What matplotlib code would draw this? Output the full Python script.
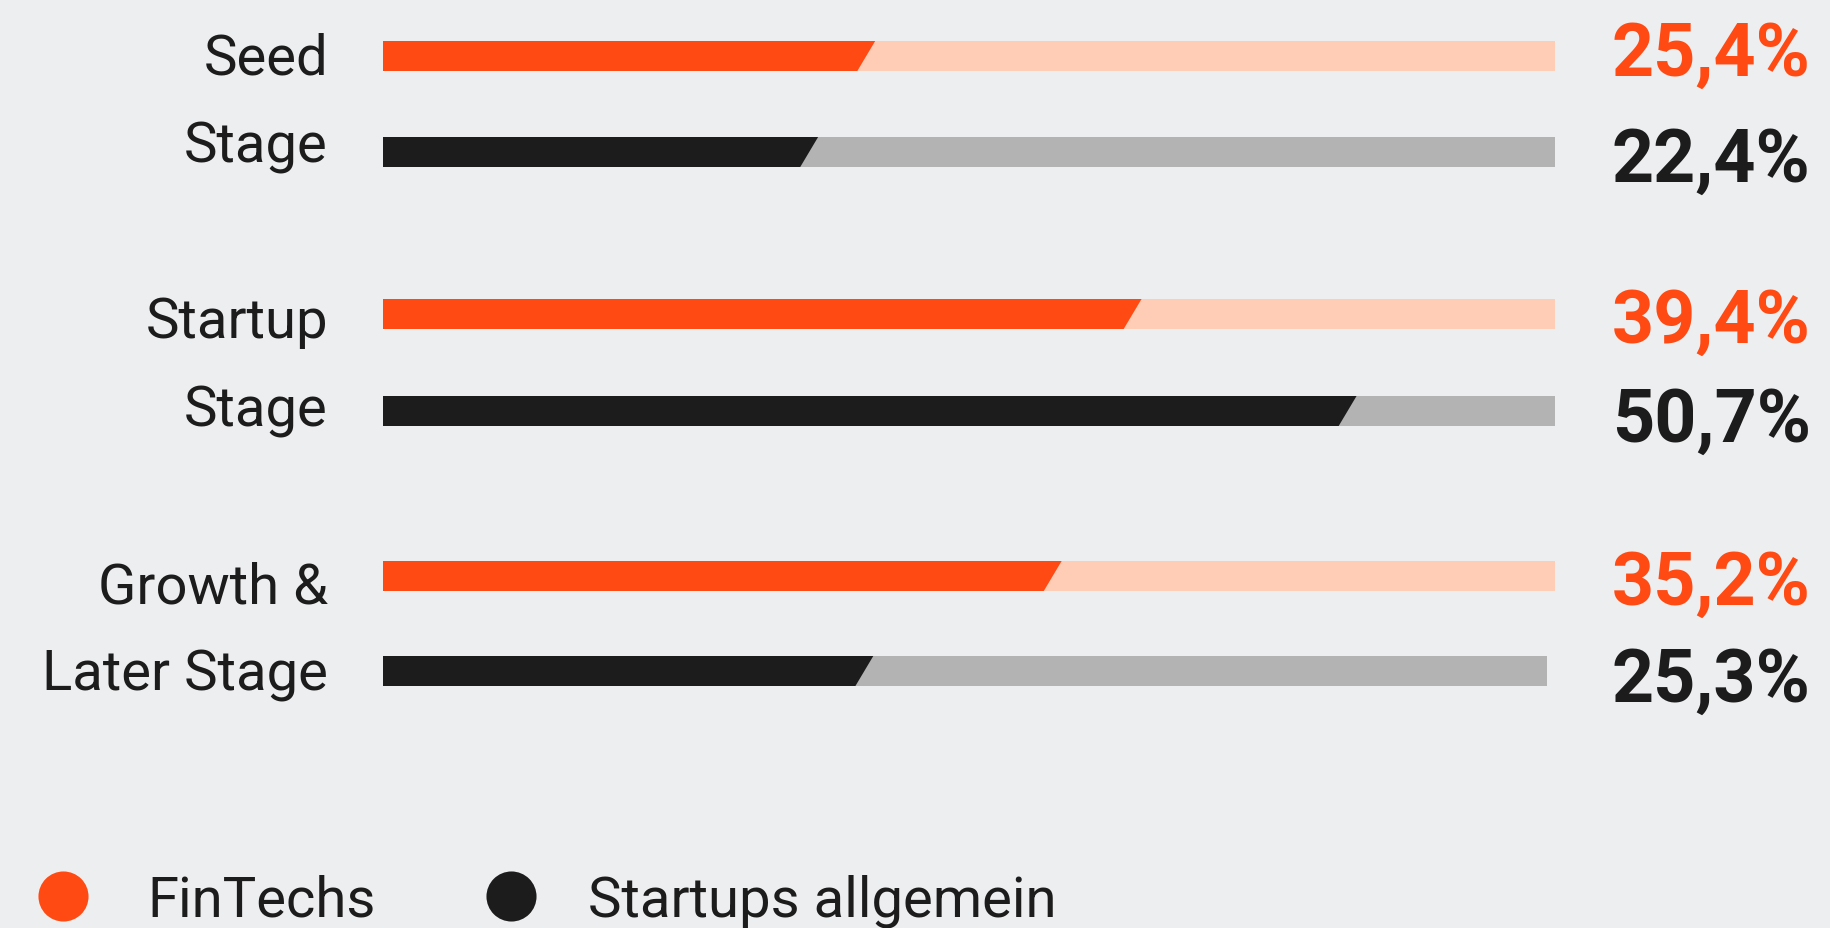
import matplotlib.pyplot as plt
from matplotlib.patches import Polygon, Rectangle

# Data
labels = ['Seed', 'Stage', 'Startup', 'Stage', 'Growth &', 'Later Stage']
values = [25.4, 22.4, 39.4, 50.7, 35.2, 25.3]
value_texts = ['25,4%', '22,4%', '39,4%', '50,7%', '35,2%', '25,3%']
series = ['FinTechs', 'Startups allgemein', 'FinTechs', 'Startups allgemein',
          'FinTechs', 'Startups allgemein']
track_ends = [61.6, 61.6, 61.6, 61.6, 61.6, 61.2]
scale_max = 61.6

# Colours
bg = '#EDEEF0'
fill_col = {'FinTechs': '#FF4A14', 'Startups allgemein': '#1C1C1C'}
track_col = {'FinTechs': '#FFCCB5', 'Startups allgemein': '#B3B3B3'}

# Layout (in pixels of the 1830x929 figure)
W, H = 1830, 929
bar_left, bar_right = 383, 1555
row_y = [57, 153, 315, 412, 577, 672]
label_base = [74, 162, 338, 426, 603, 690]
value_base = [76, 182, 343, 442, 605, 702]
bar_h = 30
slant = 0.47  # half of the slanted cut, in data units

plt.rcParams['font.family'] = ['Roboto', 'DejaVu Sans']

fig = plt.figure(figsize=(W / 100, H / 100), dpi=100)
fig.patch.set_facecolor(bg)

ax = fig.add_axes([bar_left / W, 0, (bar_right - bar_left) / W, 1])
ax.set_xlim(0, scale_max)
ax.set_ylim(H, 0)
ax.axis('off')

# overlay in figure pixels for labels and legend
ov = fig.add_axes([0, 0, 1, 1])
ov.set_xlim(0, W)
ov.set_ylim(H, 0)
ov.axis('off')
ov.patch.set_alpha(0)

for i in range(len(values)):
    y = row_y[i]
    s = series[i]
    top, bot = y - bar_h / 2, y + bar_h / 2
    ax.add_patch(Rectangle((0, top), track_ends[i], bar_h, color=track_col[s], lw=0))
    v = values[i]
    ax.add_patch(Polygon([(0, top), (v + slant, top), (v - slant, bot), (0, bot)],
                         closed=True, color=fill_col[s], lw=0))
    ov.text(328, label_base[i], labels[i], ha='right', va='baseline',
            fontsize=40.5, color='#1C1C1C')
    ov.text(1612, value_base[i], value_texts[i], ha='left', va='baseline',
            fontsize=53, fontweight='semibold', color=fill_col[s])

# legend
legend_items = ['FinTechs', 'Startups allgemein']
legend_x = [63, 511]
legend_tx = [147, 588]
for name, cx, tx in zip(legend_items, legend_x, legend_tx):
    ov.scatter([cx], [897], s=1300, color=fill_col[name], lw=0)
    ov.text(tx, 917, name, ha='left', va='baseline', fontsize=40.5,
            color='#1C1C1C')

fig.savefig('out.png', dpi=100, facecolor=bg)
